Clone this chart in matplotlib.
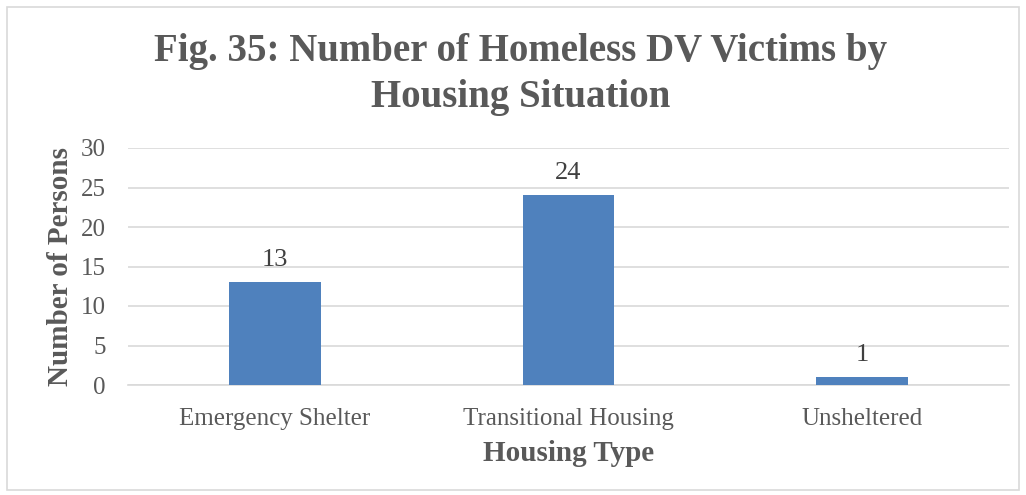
import matplotlib
matplotlib.use("Agg")
import matplotlib.pyplot as plt
from matplotlib.patches import Rectangle

categories = ["Emergency Shelter", "Transitional Housing", "Unsheltered"]
persons = [13, 24, 1]
y_ticks = [0, 5, 10, 15, 20, 25, 30]

TEXT = "#595959"
BAR = "#4F81BD"
GRID = "#D9D9D9"
FONT = ["Liberation Serif", "DejaVu Serif"]

fig = plt.figure(figsize=(10.26, 4.95), dpi=100)
fig.patch.set_facecolor("white")

# light frame around the chart
fig.add_artist(Rectangle((7 / 1026, 5 / 495), 1012 / 1026, 483 / 495,
                         transform=fig.transFigure, fill=False,
                         edgecolor="#D9D9D9", linewidth=1.2))

ax = fig.add_axes([128 / 1026, (495 - 385) / 495, 881 / 1026, 237 / 495])
x = range(len(categories))
bars = ax.bar(x, persons, width=0.313, color=BAR, zorder=3)
ax.set_xlim(-0.5, len(categories) - 0.5)
ax.set_ylim(0, 30)
ax.set_yticks(y_ticks)
ax.set_xticks(list(x))
ax.set_xticklabels(categories, fontsize=18, color=TEXT, family=FONT)
for lab in ax.get_yticklabels():
    lab.set_fontsize(18)
    lab.set_color(TEXT)
    lab.set_family(FONT)
ax.tick_params(axis="both", length=0)
ax.tick_params(axis="x", pad=16.5)
ax.tick_params(axis="y", pad=16)
ax.grid(axis="y", color=GRID, linewidth=1.2, zorder=0)
for s in ["top", "right", "left"]:
    ax.spines[s].set_visible(False)
ax.spines["bottom"].set_color(GRID)
ax.spines["bottom"].set_linewidth(1.2)

for b, v in zip(bars, persons):
    ax.annotate(str(v), (b.get_x() + b.get_width() / 2, v), xytext=(0, 8),
                textcoords="offset points", ha="center", va="bottom",
                fontsize=19, color="#404040", family=FONT)

ax.set_xlabel("Housing Type", fontsize=21, fontweight="bold", color=TEXT,
              family=FONT, labelpad=7)
ax.set_ylabel("Number of Persons", fontsize=21, fontweight="bold", color=TEXT,
              family=FONT, labelpad=5)

fig.text(521 / 1026, 1 - 52 / 495, "Fig. 35: Number of Homeless DV Victims by",
         ha="center", va="center", fontsize=28, fontweight="bold",
         color=TEXT, family=FONT)
fig.text(521 / 1026, 1 - 97 / 495, "Housing Situation",
         ha="center", va="center", fontsize=28, fontweight="bold",
         color=TEXT, family=FONT)

fig.savefig("out.png", dpi=100, facecolor="white")
